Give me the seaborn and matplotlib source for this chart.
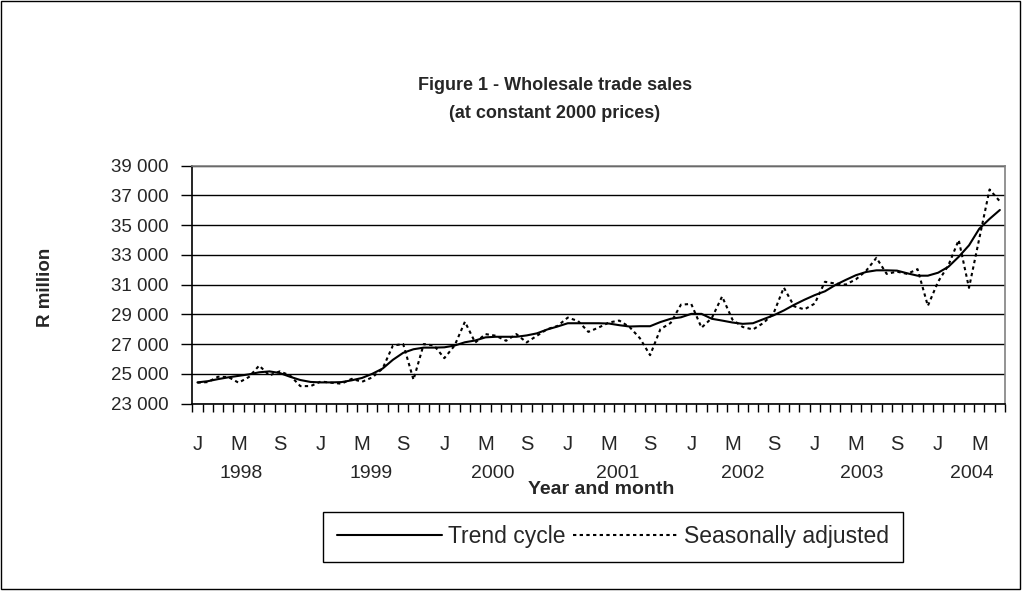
import matplotlib
matplotlib.use("Agg")
import numpy as np
import pandas as pd
import matplotlib.pyplot as plt
import matplotlib.transforms as mtransforms
from matplotlib.patches import Rectangle
from matplotlib.ticker import FuncFormatter
import seaborn as sns


# ==================== DATA ====================
years = ["1998", "1999", "2000", "2001", "2002", "2003", "2004"]
month_letters = ["J", "M", "S"]   # Jan, May, Sep (every 4th month)

# Jan 1998 .. Jul 2004, R million
trend = [
    24420, 24500, 24640, 24760, 24860, 24960, 25100, 25160, 25050, 24800, 24580, 24450,
    24420, 24420, 24440, 24560, 24720, 25000, 25350, 25940, 26410, 26650, 26760, 26760,
    26780, 26900, 27120, 27240, 27450, 27490, 27490, 27490, 27580, 27720, 27980, 28180,
    28400, 28400, 28400, 28400, 28380, 28270, 28180, 28200, 28200, 28480, 28700, 28800,
    29030, 29030, 28700, 28580, 28450, 28360, 28400, 28670, 28930, 29260, 29640, 29980,
    30290, 30550, 30970, 31310, 31630, 31850, 31960, 31960, 31940, 31760, 31600, 31600,
    31800, 32200, 32870, 33640, 34760, 35420, 36020,
]
seas_adj = [
    24400, 24440, 24800, 24780, 24400, 24780, 25550, 24890, 25160, 24890, 24170, 24170,
    24480, 24400, 24330, 24660, 24460, 24760, 25350, 26900, 27000, 24600, 27000, 26900,
    26050, 26900, 28500, 27100, 27670, 27560, 27220, 27670, 27110, 27560, 28000, 28220,
    28780, 28550, 27820, 28110, 28450, 28580, 28150, 27400, 26250, 28000, 28420, 29650,
    29700, 28100, 28750, 30200, 28650, 28150, 27980, 28410, 29060, 30800, 29540, 29330,
    29720, 31190, 31070, 31000, 31350, 31930, 32800, 31720, 31870, 31720, 32040, 29570,
    31200, 32300, 34000, 30780, 34100, 37400, 36600,
]

n = len(trend)
df = pd.DataFrame({
    "month": list(range(n)) * 2,
    "value": trend + seas_adj,
    "series": ["Trend cycle"] * n + ["Seasonally adjusted"] * n,
})

# ==================== PLOT ====================
sns.set_style("white")
plt.rcParams["font.family"] = ["Liberation Sans", "DejaVu Sans"]

W, H = 1028, 596
fig = plt.figure(figsize=(W / 100, H / 100), dpi=100)
ax = fig.add_axes([192.3 / W, 1 - 403.5 / H, (1005 - 192.3) / W, (403.5 - 165.7) / H])

sns.lineplot(
    data=df, x="month", y="value", style="series",
    dashes={"Trend cycle": "", "Seasonally adjusted": (1.6, 1.6)},
    color="black", linewidth=1.5, ax=ax, legend=True,
)

ax.set_xlim(-0.5, n - 0.5)
ax.set_ylim(23000, 39000)
ax.set_yticks(np.arange(23000, 39001, 2000))
ax.yaxis.set_major_formatter(FuncFormatter(lambda v, p: f"{int(v):,}".replace(",", " ")))
ax.yaxis.grid(True, color="black", linewidth=1)
ax.set_axisbelow(True)
ax.tick_params(axis="y", length=8, width=1, color="black", labelsize=13.5, pad=9, left=True)

# month letters every 4 months, ticks between categories
ax.set_xticks(np.arange(0, n, 4))
ax.set_xticklabels([month_letters[k % 3] for k in range(len(np.arange(0, n, 4)))])
ax.set_xticks(np.arange(-0.5, n, 1), minor=True)
ax.tick_params(axis="x", which="major", length=0, labelsize=14.5, pad=23)
ax.tick_params(axis="x", which="minor", length=6, width=1, color="black", bottom=True)

for s in ["left", "bottom"]:
    ax.spines[s].set_color("black")
    ax.spines[s].set_linewidth(1.2)
for s in ["top", "right"]:
    ax.spines[s].set_color("#808080")
    ax.spines[s].set_linewidth(1.2)

# year labels under the month letters
year_pos = [4.2, 16.9, 28.7, 40.9, 53.0, 64.6, 75.3]
xdata_yfig = mtransforms.blended_transform_factory(ax.transData, fig.transFigure)
for yr, xp in zip(years, year_pos):
    fig.text(xp, 1 - 474 / H, yr, ha="center", va="center", fontsize=14,
             transform=xdata_yfig)

ax.set_xlabel("")
ax.set_ylabel("")
fig.text(45 / W, 1 - 287 / H, "R million", ha="center", va="center", rotation=90,
         fontsize=13.5, fontweight="bold")
fig.text(601 / W, 1 - 490 / H, "Year and month", ha="center", va="center",
         fontsize=14, fontweight="bold")

fig.text(555 / W, 1 - 86 / H, "Figure 1 - Wholesale trade sales", ha="center",
         va="center", fontsize=13, fontweight="bold")
fig.text(555 / W, 1 - 113 / H, "(at constant 2000 prices)", ha="center",
         va="center", fontsize=13, fontweight="bold")

handles, labels = ax.get_legend_handles_labels()
ax.legend(handles, labels, loc="center", ncol=2,
          bbox_to_anchor=(613 / W, 1 - 537 / H), bbox_transform=fig.transFigure,
          frameon=True, fancybox=False, edgecolor="black", framealpha=1,
          fontsize=16.5, handlelength=4.6, handletextpad=0.25, columnspacing=0.35,
          borderpad=0.6, borderaxespad=0)
ax.get_legend().get_frame().set_linewidth(1)

# outer chart border
fig.patches.append(Rectangle((1 / W, 1 - 589 / H), 1019 / W, 588 / H,
                             transform=fig.transFigure, fill=False,
                             edgecolor="black", linewidth=1))

fig.savefig("out.png", dpi=100)
